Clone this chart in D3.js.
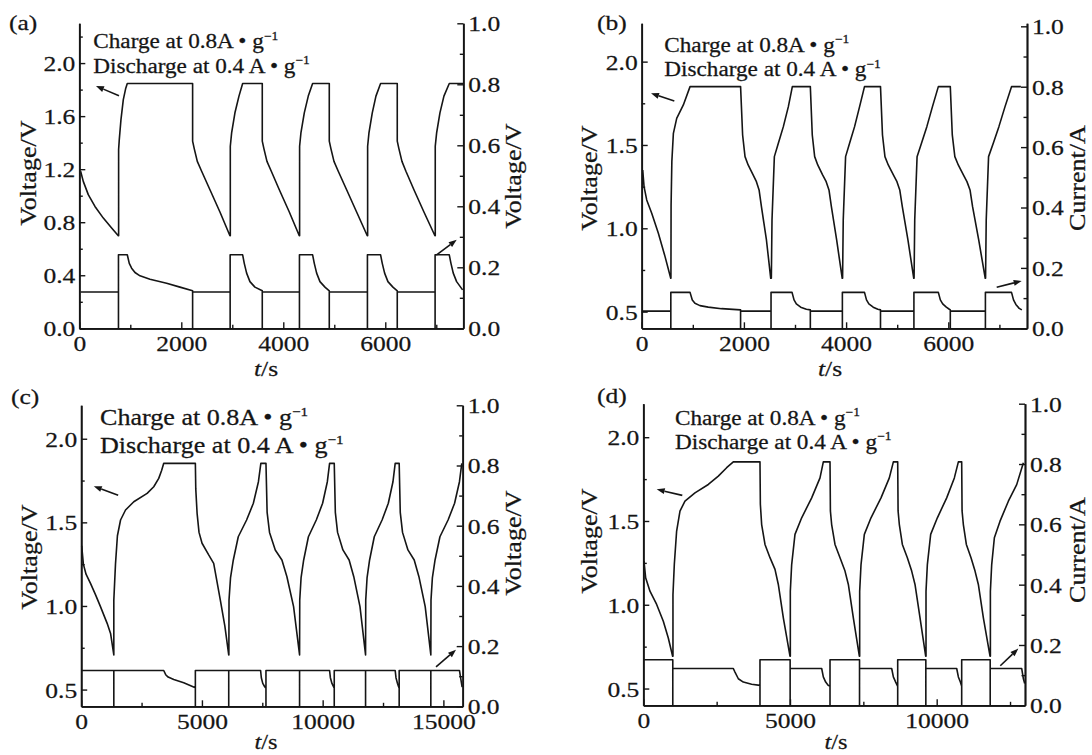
<!DOCTYPE html>
<html>
<head>
<meta charset="utf-8">
<script src="https://cdn.jsdelivr.net/npm/d3@7/dist/d3.min.js"></script>
<style>
  html, body { margin: 0; padding: 0; background: #fff; }
  svg { display: block; }
  svg text { stroke: #151515; stroke-width: 0.25px; }
</style>
</head>
<body>
<svg id="fig" width="1092" height="755"></svg>
<script>
// ---------------------------------------------------------------
// Galvanostatic charge / discharge cycling, four cells (a)–(d).
// Each cell: voltage trace (left axis) and current trace (right axis)
// ---------------------------------------------------------------

// ---- (a) ----  [t/s, V]
const voltageA = [
  [26,1.184],[78,1.108],[176,1.008],[307,0.919],[471,0.831],[634,0.756],[765,0.698],
  [771,0.698],[771,1.348],[784,1.423],[817,1.574],[863,1.725],[908,1.806],[941,1.846],
  [2222,1.846],[2222,1.411],[2255,1.353],[2314,1.259],[2399,1.184],[2562,1.045],[2758,0.877],[2954,0.698],
  [2961,0.698],[2961,1.373],[2987,1.474],[3052,1.625],[3131,1.751],[3203,1.846],
  [3588,1.846],[3588,1.411],[3621,1.353],[3680,1.259],[3765,1.184],[3922,1.045],[4118,0.877],[4314,0.698],
  [4320,0.698],[4320,1.373],[4346,1.474],[4412,1.625],[4490,1.751],[4575,1.846],
  [4902,1.846],[4902,1.411],[4935,1.353],[4994,1.259],[5078,1.184],[5242,1.045],[5438,0.877],[5647,0.698],
  [5654,0.698],[5654,1.373],[5680,1.474],[5745,1.625],[5817,1.751],[5908,1.846],
  [6235,1.846],[6235,1.411],[6268,1.353],[6327,1.259],[6405,1.184],[6562,1.045],[6758,0.877],[6974,0.698],
  [6980,0.698],[6980,1.373],[7007,1.474],[7072,1.625],[7150,1.751],[7255,1.846],[7525,1.846]
];
// [t/s, right-axis value]
const currentA = [
  [26,0.119],[768,0.119],[768,0],[768,0.241],[941,0.241],[980,0.213],[1026,0.197],[1092,0.183],
  [1190,0.172],[1386,0.161],[1712,0.148],[1974,0.135],[2222,0.123],[2222,0],[2222,0.119],
  [2958,0.119],[2958,0],[2958,0.241],[3203,0.241],[3235,0.213],[3281,0.181],[3346,0.153],[3444,0.135],[3588,0.123],
  [3588,0],[3588,0.119],[4317,0.119],[4317,0],[4317,0.241],[4575,0.241],[4608,0.213],[4654,0.181],[4719,0.153],
  [4817,0.135],[4902,0.123],[4902,0],[4902,0.119],[5650,0.119],[5650,0],[5650,0.241],[5908,0.241],[5941,0.213],
  [5987,0.181],[6052,0.153],[6150,0.135],[6235,0.123],[6235,0],[6235,0.119],[6977,0.119],[6977,0],[6977,0.241],
  [7255,0.241],[7288,0.213],[7333,0.181],[7399,0.153],[7477,0.135],[7516,0.126]
];

// ---- (b) ----
const voltageB = [
  [20,1.35],[46,1.25],[98,1.17],[196,1.09],[326,0.97],[457,0.83],[568,0.70],
  [572,0.70],[575,1.14],[590,1.40],[620,1.57],[685,1.66],[815,1.74],[946,1.85],
  [1935,1.85],[1975,1.56],[2022,1.43],[2083,1.38],[2180,1.32],[2245,1.28],[2297,1.23],[2343,1.13],[2441,0.93],[2525,0.70],
  [2537,0.70],[2550,1.05],[2596,1.43],[2674,1.51],[2772,1.61],[2870,1.73],[2948,1.85],
  [3300,1.85],[3338,1.56],[3385,1.43],[3445,1.38],[3540,1.32],[3610,1.28],[3665,1.23],[3712,1.13],[3815,0.93],[3924,0.70],
  [3931,0.70],[3944,1.05],[3990,1.43],[4068,1.51],[4166,1.61],[4264,1.73],[4360,1.85],
  [4673,1.85],[4712,1.56],[4760,1.43],[4825,1.38],[4925,1.32],[4995,1.28],[5050,1.23],[5100,1.13],[5210,0.93],[5324,0.70],
  [5330,0.70],[5343,1.05],[5389,1.43],[5475,1.51],[5580,1.61],[5690,1.73],[5805,1.85],
  [6039,1.85],[6078,1.56],[6128,1.43],[6195,1.38],[6295,1.32],[6365,1.28],[6425,1.23],[6475,1.13],[6595,0.93],[6723,0.70],
  [6729,0.70],[6742,1.05],[6788,1.43],[6880,1.51],[6990,1.61],[7110,1.73],[7237,1.85],[7420,1.85]
];
const currentB = [
  [20,0.057],[570,0.057],[570,0],[570,0.119],[946,0.119],[990,0.094],[1042,0.083],[1140,0.075],[1302,0.070],
  [1562,0.065],[1935,0.061],[1935,0],[1935,0.057],[2531,0.057],[2531,0],[2531,0.119],[2942,0.119],[2981,0.094],
  [3026,0.081],[3111,0.070],[3222,0.063],[3300,0.061],[3300,0],[3300,0.057],[3927,0.057],[3927,0],[3927,0.119],
  [4360,0.119],[4399,0.094],[4445,0.081],[4530,0.070],[4621,0.063],[4673,0.061],[4673,0],[4673,0.057],
  [5327,0.057],[5327,0],[5327,0.119],[5805,0.119],[5844,0.094],[5890,0.081],[5961,0.070],[6020,0.063],[6039,0.061],
  [6039,0],[6039,0.057],[6726,0.057],[6726,0],[6726,0.119],[7237,0.119],[7276,0.094],[7322,0.079],[7387,0.066],[7439,0.061]
];

// ---- (c) ----
const voltageC = [
  [20,1.36],[90,1.25],[200,1.19],[385,1.135],[600,1.065],[798,0.996],[1075,0.896],[1216,0.836],[1351,0.707],
  [1351,0.707],[1351,1.035],[1420,1.25],[1500,1.42],[1630,1.514],[1836,1.574],[2178,1.623],[2730,1.673],[3005,1.713],[3211,1.763],[3330,1.81],[3418,1.853],
  [4728,1.853],[4745,1.70],[4800,1.554],[4880,1.44],[5005,1.375],[5280,1.305],[5487,1.255],[5762,1.035],[5950,0.88],[6110,0.707],
  [6116,0.707],[6122,1.035],[6185,1.17],[6300,1.275],[6505,1.414],[6850,1.514],[7130,1.614],[7340,1.743],[7440,1.853],
  [7652,1.853],[7700,1.56],[7800,1.44],[8037,1.335],[8313,1.275],[8520,1.175],[8796,0.996],[9044,0.707],
  [9044,0.707],[9051,1.035],[9107,1.17],[9214,1.275],[9410,1.414],[9736,1.514],[9998,1.614],[10194,1.743],[10287,1.853],
  [10480,1.853],[10525,1.56],[10618,1.44],[10839,1.335],[11096,1.275],[11289,1.175],[11546,0.996],[11777,0.707],
  [11777,0.707],[11784,1.035],[11840,1.17],[11944,1.275],[12138,1.414],[12461,1.514],[12719,1.614],[12912,1.743],[13004,1.853],
  [13169,1.853],[13214,1.56],[13308,1.44],[13532,1.335],[13792,1.275],[13987,1.175],[14247,0.996],[14480,0.707],
  [14480,0.707],[14487,1.035],[14545,1.17],[14655,1.275],[14857,1.414],[15194,1.514],[15464,1.614],[15666,1.743],[15762,1.853]
];
const currentC = [
  [20,0.119],[1351,0.119],[1351,0],[1351,0.119],[3418,0.119],[3500,0.105],[3600,0.097],[3834,0.089],[4247,0.078],
  [4728,0.062],[4728,0],[4728,0.119],[6110,0.119],[6110,0],[6110,0.119],[7430,0.119],[7460,0.095],[7520,0.076],
  [7600,0.065],[7652,0.060],[7652,0],[7652,0.119],[9044,0.119],[9044,0],[9044,0.119],[10287,0.119],[10320,0.095],
  [10385,0.076],[10450,0.065],[10480,0.060],[10480,0],[10480,0.119],[11777,0.119],[11777,0],[11777,0.119],
  [13004,0.119],[13037,0.095],[13100,0.076],[13145,0.065],[13169,0.060],[13169,0],[13169,0.119],[14480,0.119],
  [14480,0],[14480,0.119],[15666,0.119],[15721,0.091],[15776,0.064]
];

// ---- (d) ----
const voltageD = [
  [23,1.260],[80,1.161],[227,1.081],[455,1.002],[682,0.902],[852,0.802],[1000,0.693],
  [1011,0.693],[1011,1.06],[1057,1.240],[1136,1.440],[1250,1.559],[1420,1.619],[1761,1.668],[2216,1.718],[2557,1.768],[2841,1.818],[3068,1.853],
  [3977,1.853],[3990,1.600],[4034,1.479],[4148,1.360],[4318,1.281],[4489,1.211],[4602,1.121],[4773,0.922],[5000,0.693],
  [5011,0.693],[5011,1.08],[5057,1.240],[5170,1.420],[5398,1.519],[5739,1.638],[6023,1.757],[6136,1.853],
  [6364,1.853],[6377,1.560],[6420,1.479],[6534,1.360],[6705,1.281],[6875,1.201],[6989,1.121],[7159,0.922],[7364,0.693],
  [7375,0.693],[7375,1.08],[7421,1.240],[7534,1.420],[7761,1.519],[8102,1.638],[8386,1.757],[8523,1.853],
  [8671,1.853],[8684,1.560],[8727,1.479],[8830,1.360],[9000,1.281],[9148,1.201],[9261,1.121],[9432,0.922],[9625,0.693],
  [9636,0.693],[9636,1.08],[9682,1.240],[9795,1.420],[10023,1.519],[10341,1.638],[10602,1.757],[10739,1.853],
  [10852,1.853],[10865,1.560],[10909,1.479],[11011,1.360],[11170,1.281],[11307,1.201],[11420,1.121],[11591,0.922],[11818,0.693],
  [11830,0.693],[11830,1.08],[11875,1.240],[11966,1.400],[12159,1.499],[12443,1.618],[12727,1.717],[12955,1.847]
];
const currentD = [
  [23,0.151],[1005,0.151],[1005,0],[1005,0.122],[3068,0.122],[3125,0.110],[3239,0.088],[3409,0.077],[3693,0.070],
  [3977,0.066],[3977,0],[3977,0.151],[5005,0.151],[5005,0],[5005,0.122],[6080,0.122],[6136,0.094],[6216,0.077],
  [6307,0.066],[6364,0.063],[6364,0],[6364,0.151],[7370,0.151],[7370,0],[7370,0.122],[8466,0.122],[8523,0.094],
  [8602,0.077],[8671,0.063],[8671,0],[8671,0.151],[9630,0.151],[9630,0],[9630,0.122],[10682,0.122],[10739,0.094],
  [10807,0.077],[10852,0.063],[10852,0],[10852,0.151],[11824,0.151],[11824,0],[11824,0.122],[12898,0.122],
  [12955,0.088],[13000,0.072]
];

// ---- tick values ----
const tTicks7k      = [0, 2000, 4000, 6000];
const tMinor7k      = [1000, 3000, 5000, 7000];
const tTicks15k     = [0, 5000, 10000, 15000];
const tMinor15k     = [2500, 7500, 12500];
const vTicksA       = [0.0, 0.4, 0.8, 1.2, 1.6, 2.0];
const vMinorA       = [0.2, 0.6, 1.0, 1.4, 1.8, 2.2];
const vTicksBCD     = [0.5, 1.0, 1.5, 2.0];
const vMinorBCD     = [0.75, 1.25, 1.75];
const rightTicks    = [0.0, 0.2, 0.4, 0.6, 0.8, 1.0];
const rightMinor    = [0.1, 0.3, 0.5, 0.7, 0.9];

const noteLine1 = "Charge at 0.8A \u2022 g";
const noteLine2 = "Discharge at 0.4 A \u2022 g";
const noteSup   = "\u22121";

// ---------------------------------------------------------------
const FONT = "'Liberation Serif', 'Times New Roman', Times, serif";
const INK = "#151515";
const SX = 1.16;          // the serif face in this figure is set slightly wide
const TICK_FS = 22;

const panels = [
  { tag: "(a)", volt: voltageA, curr: currentA, tMax: 7530, vDom: [0, 2.3], iDom: [0, 1.0],
    tMajor: tTicks7k, tMinor: tMinor7k, vMajor: vTicksA, vMinor: vMinorA, rightTitle: "Voltage/V",
    box: { l: 79.3, r: 463.3, t: 23.3, b: 328.3 },
    tagPos: [9, 30], note: { x: 93.3, y1: 48.3, y2: 72.7, fs: 20 },
    leftTitle: [35.5, 173], rightTitlePos: [521, 176], xTitle: [266, 375.5], xTitleFs: 22,
    arrows: [ { axis: "v", from: [778, 1.754], to: [327, 1.827] },
              { axis: "i", from: [7000, 0.240], to: [7401, 0.290] } ] },
  { tag: "(b)", volt: voltageB, curr: currentB, tMax: 7540, vDom: [0.4, 2.23], iDom: [0, 1.01],
    tMajor: tTicks7k, tMinor: tMinor7k, vMajor: vTicksBCD, vMinor: vMinorBCD, rightTitle: "Current/A",
    box: { l: 641.7, r: 1027, t: 23.3, b: 328.3 },
    tagPos: [597, 30], note: { x: 664.3, y1: 51.7, y2: 76, fs: 20 },
    leftTitle: [597, 178], rightTitlePos: [1085, 178], xTitle: [830, 375.5], xTitleFs: 22,
    arrows: [ { axis: "v", from: [638, 1.764], to: [182, 1.810] },
              { axis: "i", from: [6947, 0.136], to: [7436, 0.157] } ] },
  { tag: "(c)", volt: voltageC, curr: currentC, tMax: 15800, vDom: [0.4, 2.2], iDom: [0, 1.0],
    tMajor: tTicks15k, tMinor: tMinor15k, vMajor: vTicksBCD, vMinor: vMinorBCD, rightTitle: "Voltage/V",
    box: { l: 81.2, r: 462.7, t: 405.3, b: 706.3 },
    tagPos: [11, 404], note: { x: 100, y1: 425.3, y2: 453, fs: 22.5 },
    leftTitle: [36.5, 557], rightTitlePos: [521, 543], xTitle: [266, 749], xTitleFs: 21,
    arrows: [ { axis: "v", from: [1530, 1.662], to: [521, 1.716] },
              { axis: "i", from: [14696, 0.131], to: [15523, 0.188] } ] },
  { tag: "(d)", volt: voltageD, curr: currentD, tMax: 13010, vDom: [0.4, 2.2], iDom: [0, 1.0],
    tMajor: tTicks15k.slice(0, 3), tMinor: tMinor15k, vMajor: vTicksBCD, vMinor: vMinorBCD, rightTitle: "Current/A",
    box: { l: 643.3, r: 1025, t: 403.7, b: 705.3 },
    tagPos: [597, 403], note: { x: 675, y1: 424.7, y2: 448.7, fs: 20 },
    leftTitle: [597, 541], rightTitlePos: [1085, 550], xTitle: [836, 749], xTitleFs: 21,
    arrows: [ { axis: "v", from: [1329, 1.653], to: [457, 1.689] },
              { axis: "i", from: [12168, 0.131], to: [12782, 0.188] } ] }
];

const svg = d3.select("#fig").attr("font-family", FONT);
svg.append("rect").attr("width", 1092).attr("height", 755).attr("fill", "#fff");

// text placed with the wide setting; rotation keeps the stretch along the baseline
function putText(parent, x, y, str, fs, anchor = "start", rot = 0) {
  return parent.append("text")
    .attr("transform", `translate(${x},${y}) rotate(${rot}) scale(${SX},1)`)
    .attr("text-anchor", anchor)
    .attr("font-size", fs)
    .attr("fill", INK)
    .text(str);
}

function styleAxis(sel) {
  sel.attr("font-family", FONT).attr("font-size", TICK_FS).attr("color", INK);
  sel.select(".domain").attr("stroke-width", 1.7);
  sel.selectAll(".tick line").attr("stroke-width", 1.4);
}

function drawArrow(g, x0, y0, x1, y1) {
  const ang = Math.atan2(y1 - y0, x1 - x0);
  const L = 8, W = 3;
  const bx = x1 - L * Math.cos(ang), by = y1 - L * Math.sin(ang);
  g.append("line").attr("x1", x0).attr("y1", y0).attr("x2", bx).attr("y2", by)
    .attr("stroke", INK).attr("stroke-width", 1.6);
  const px = -Math.sin(ang) * W, py = Math.cos(ang) * W;
  g.append("path")
    .attr("d", `M${x1},${y1}L${bx + px},${by + py}L${bx - px},${by - py}Z`)
    .attr("fill", INK);
}

panels.forEach(p => {
  const g = svg.append("g");
  const b = p.box;
  const x  = d3.scaleLinear().domain([0, p.tMax]).range([b.l, b.r]);
  const yV = d3.scaleLinear().domain(p.vDom).range([b.b, b.t]);
  const yI = d3.scaleLinear().domain(p.iDom).range([b.b, b.t]);

  // --- minor ticks (inward) ---
  g.append("g").attr("transform", `translate(0,${b.b})`)
    .call(d3.axisBottom(x).tickValues(p.tMinor).tickSize(-3.5).tickSizeOuter(0).tickFormat(""))
    .call(styleAxis);
  g.append("g").attr("transform", `translate(${b.l},0)`)
    .call(d3.axisLeft(yV).tickValues(p.vMinor).tickSize(-3.5).tickSizeOuter(0).tickFormat(""))
    .call(styleAxis);
  g.append("g").attr("transform", `translate(${b.r},0)`)
    .call(d3.axisRight(yI).tickValues(rightMinor).tickSize(-3.5).tickSizeOuter(0).tickFormat(""))
    .call(styleAxis);

  // --- major ticks + labels ---
  const xa = g.append("g").attr("transform", `translate(0,${b.b})`)
    .call(d3.axisBottom(x).tickValues(p.tMajor).tickSize(-6).tickSizeOuter(0).tickFormat(d3.format("d")))
    .call(styleAxis);
  xa.selectAll("text").attr("y", 22.7).attr("dy", null).attr("transform", `scale(${SX},1)`);

  const la = g.append("g").attr("transform", `translate(${b.l},0)`)
    .call(d3.axisLeft(yV).tickValues(p.vMajor).tickSize(-6).tickSizeOuter(0).tickFormat(d3.format(".1f")))
    .call(styleAxis);
  la.selectAll("text").attr("x", -4 / SX).attr("dy", "0.34em").attr("transform", `scale(${SX},1)`);

  const ra = g.append("g").attr("transform", `translate(${b.r},0)`)
    .call(d3.axisRight(yI).tickValues(rightTicks).tickSize(-6).tickSizeOuter(0).tickFormat(d3.format(".1f")))
    .call(styleAxis);
  ra.selectAll("text").attr("x", 5 / SX).attr("dy", "0.34em").attr("transform", `scale(${SX},1)`);

  // --- traces ---
  const lineV = d3.line().x(d => x(d[0])).y(d => yV(d[1]));
  const lineI = d3.line().x(d => x(d[0])).y(d => yI(d[1]));
  g.append("path").datum(p.volt).attr("d", lineV)
    .attr("fill", "none").attr("stroke", INK).attr("stroke-width", 1.6).attr("stroke-linejoin", "round");
  g.append("path").datum(p.curr).attr("d", lineI)
    .attr("fill", "none").attr("stroke", INK).attr("stroke-width", 1.6).attr("stroke-linejoin", "round");

  // --- arrows pointing to the axis each trace belongs to ---
  p.arrows.forEach(a => {
    const ys = a.axis === "v" ? yV : yI;
    drawArrow(g, x(a.from[0]), ys(a.from[1]), x(a.to[0]), ys(a.to[1]));
  });

  // --- titles ---
  putText(g, p.tagPos[0], p.tagPos[1], p.tag, 22);
  putText(g, p.leftTitle[0], p.leftTitle[1], "Voltage/V", 22.5, "middle", -90);
  putText(g, p.rightTitlePos[0], p.rightTitlePos[1], p.rightTitle, 22.5, "middle", -90);
  const xt = g.append("text")
    .attr("transform", `translate(${p.xTitle[0]},${p.xTitle[1]}) scale(${SX},1)`)
    .attr("text-anchor", "middle").attr("font-size", p.xTitleFs).attr("fill", INK);
  xt.append("tspan").attr("font-style", "italic").text("t");
  xt.append("tspan").text("/s");

  // --- test-condition note ---
  [[p.note.y1, noteLine1], [p.note.y2, noteLine2]].forEach(([yy, str]) => {
    const t = g.append("text")
      .attr("transform", `translate(${p.note.x},${yy}) scale(${SX},1)`)
      .attr("font-size", p.note.fs).attr("fill", INK);
    t.append("tspan").text(str);
    t.append("tspan").attr("font-size", p.note.fs * 0.58).attr("dy", -p.note.fs * 0.42).text(noteSup);
  });
});
</script>
</body>
</html>
